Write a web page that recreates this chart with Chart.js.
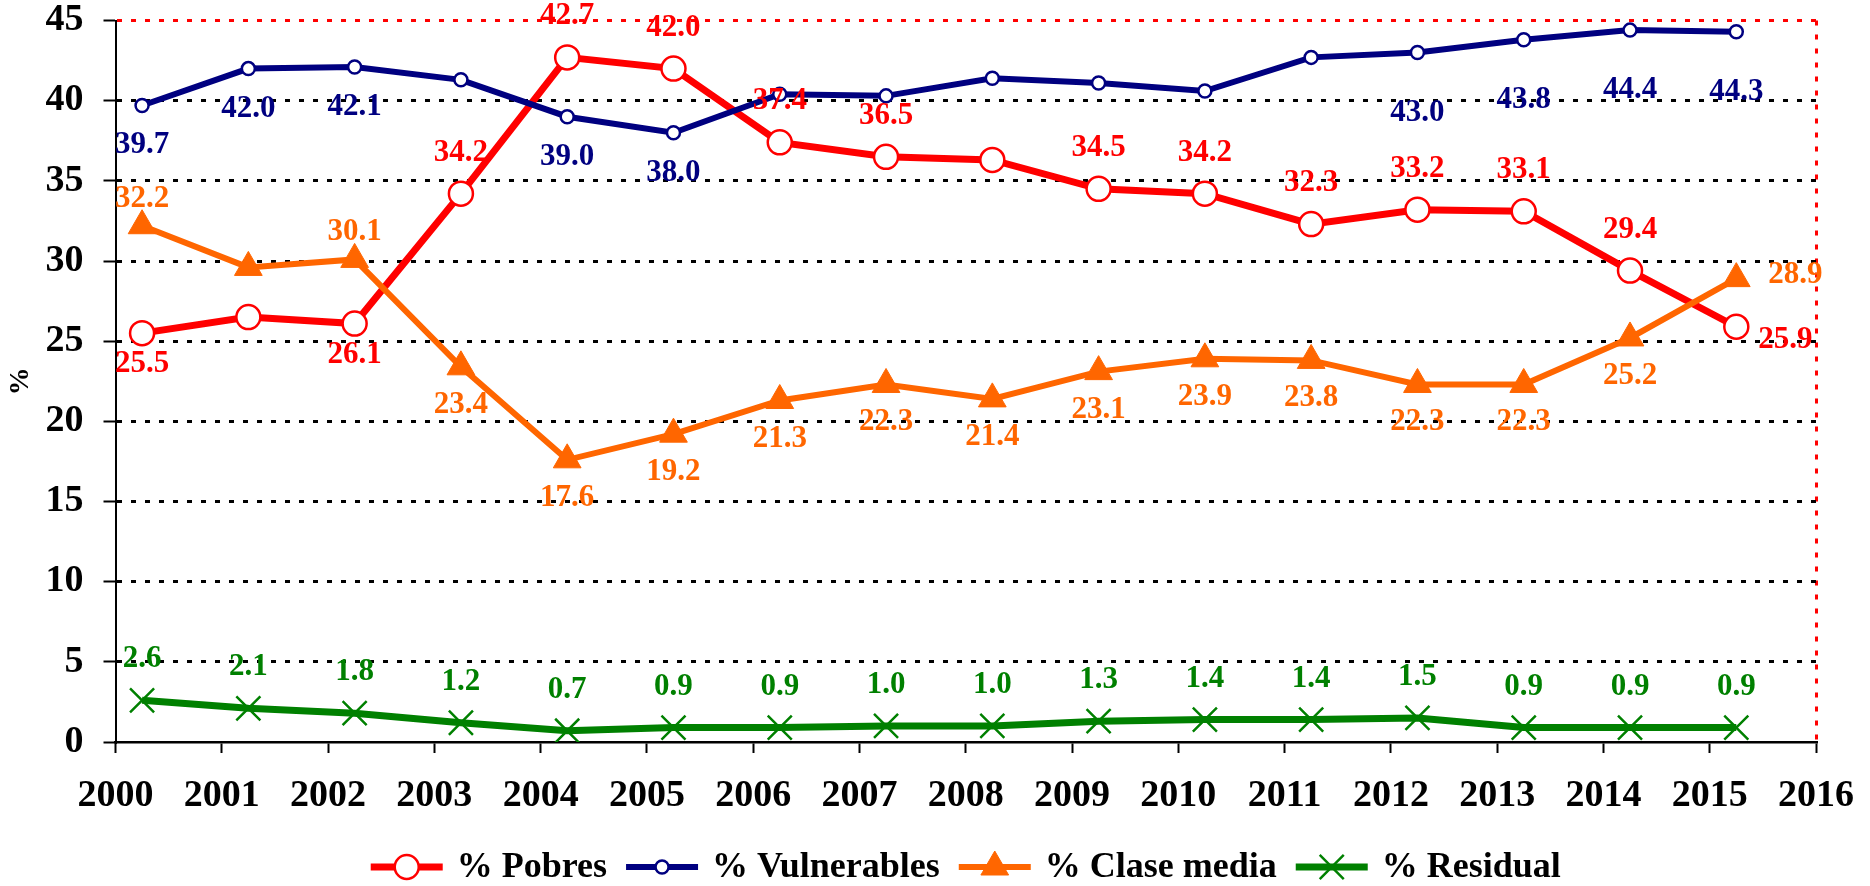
<!DOCTYPE html>
<html lang="es">
<head>
<meta charset="UTF-8">
<title>Pobres, vulnerables, clase media</title>
<script src="https://cdn.jsdelivr.net/npm/chart.js@4.4.0/dist/chart.umd.min.js"></script>
<style>
    * { margin: 0; padding: 0; box-sizing: border-box; }
    body { background: #fff; }
    .wrap { width: 1870px; height: 886px; position: relative; }
</style>
</head>
<body>
<div class="wrap"><canvas id="chart"></canvas></div>
<script>
// data
const years = [2000, 2001, 2002, 2003, 2004, 2005, 2006, 2007, 2008, 2009, 2010, 2011, 2012, 2013, 2014, 2015];
const pobres      = [25.5, 26.5, 26.1, 34.2, 42.7, 42.0, 37.4, 36.5, 36.3, 34.5, 34.2, 32.3, 33.2, 33.1, 29.4, 25.9];
const vulnerables = [39.7, 42.0, 42.1, 41.3, 39.0, 38.0, 40.4, 40.3, 41.4, 41.1, 40.6, 42.7, 43.0, 43.8, 44.4, 44.3];
const claseMedia  = [32.2, 29.6, 30.1, 23.4, 17.6, 19.2, 21.3, 22.3, 21.4, 23.1, 23.9, 23.8, 22.3, 22.3, 25.2, 28.9];
const residual    = [2.6, 2.1, 1.8, 1.2, 0.7, 0.9, 0.9, 1.0, 1.0, 1.3, 1.4, 1.4, 1.5, 0.9, 0.9, 0.9];

// x axis runs 2000..2016, points sit a quarter year after each tick
const xMin = 2000, xMax = 2016;
const pointOffset = 0.25;

// where each value label sits: a = above, b = below, B = further below, r = right, '' = none
const pobresLbl   = ['b', '', 'b', 'a', 'a', 'a', 'a', 'a', '', 'a', 'a', 'a', 'a', 'a', 'a', 'r'];
const vulnLbl     = ['b', 'b', 'b', '', 'b', 'b', '', '', '', '', '', '', 'B', 'B', 'B', 'B'];
const claseLbl    = ['a', '', 'a', 'b', 'b', 'b', 'b', 'b', 'b', 'b', 'b', 'b', 'b', 'b', 'b', 'r'];
const residualLbl = ['a', 'a', 'a', 'a', 'a', 'a', 'a', 'a', 'a', 'a', 'a', 'a', 'a', 'a', 'a', 'a'];

const FONT = "'Liberation Serif', 'Times New Roman', serif";
const RED = '#FF0000', NAVY = '#000080', ORANGE = '#FF6600', GREEN = '#008000';

function points(values) {
    return values.map((v, i) => ({ x: years[i] + pointOffset, y: v }));
}

// value labels, placed the way the original has them
const valueLabels = {
    id: 'valueLabels',
    afterDatasetsDraw(chart) {
        const ctx = chart.ctx;
        ctx.save();
        ctx.font = 'bold 31px ' + FONT;
        ctx.textAlign = 'center';
        ctx.textBaseline = 'middle';
        chart.data.datasets.forEach((ds, di) => {
            const meta = chart.getDatasetMeta(di);
            const g = ds.labelGap;
            ctx.fillStyle = ds.borderColor;
            meta.data.forEach((pt, i) => {
                const code = ds.labelPos[i];
                if (!code) return;
                let dx = 0, dy = 0;
                if (code === 'a') dy = -g.above;
                else if (code === 'b') dy = g.below;
                else if (code === 'B') dy = g.far;
                else if (code === 'r') { dx = g.right[0]; dy = g.right[1]; }
                ctx.fillText(ds.data[i].y.toFixed(1), pt.x + dx, pt.y + dy);
            });
        });
        ctx.restore();
    }
};

// legend drawn as line + marker sample, like the spreadsheet one
const lineLegend = {
    id: 'lineLegend',
    afterDraw(chart) {
        const ctx = chart.ctx;
        const area = chart.chartArea;
        const sampleW = 72, gapA = 14, gapB = 19;
        const y = 867;
        ctx.save();
        ctx.font = 'bold 36px ' + FONT;
        const items = chart.data.datasets.map(ds => ({ ds, w: ctx.measureText(ds.label).width }));
        let total = 0;
        items.forEach((it, i) => { total += sampleW + gapA + it.w + (i < items.length - 1 ? gapB : 0); });
        let x = (area.left + area.right) / 2 - total / 2;
        items.forEach(it => {
            const ds = it.ds;
            ctx.strokeStyle = ds.borderColor;
            ctx.lineWidth = ds.borderWidth;
            ctx.beginPath();
            ctx.moveTo(x, y);
            ctx.lineTo(x + sampleW, y);
            ctx.stroke();
            ctx.fillStyle = ds.pointBackgroundColor;
            ctx.strokeStyle = ds.pointBorderColor;
            ctx.lineWidth = ds.pointBorderWidth;
            Chart.helpers.drawPoint(ctx, {
                pointStyle: ds.pointStyle,
                radius: ds.pointRadius,
                rotation: 0,
                borderWidth: ds.pointBorderWidth
            }, x + sampleW / 2, y);
            ctx.fillStyle = '#000';
            ctx.textAlign = 'left';
            ctx.textBaseline = 'middle';
            ctx.fillText(ds.label, x + sampleW + gapA, y + 1);
            x += sampleW + gapA + it.w + gapB;
        });
        ctx.restore();
    }
};

new Chart(document.getElementById('chart'), {
    type: 'line',
    data: {
        datasets: [{
            label: '% Pobres',
            data: points(pobres),
            borderColor: RED,
            borderWidth: 7,
            pointStyle: 'circle',
            pointRadius: 12,
            pointBackgroundColor: '#fff',
            pointBorderColor: RED,
            pointBorderWidth: 2.5,
            labelPos: pobresLbl,
            labelGap: { above: 41, below: 31, right: [49, 13] },
            order: 4
        }, {
            label: '% Vulnerables',
            data: points(vulnerables),
            borderColor: NAVY,
            borderWidth: 6,
            pointStyle: 'circle',
            pointRadius: 6.5,
            pointBackgroundColor: '#fff',
            pointBorderColor: NAVY,
            pointBorderWidth: 2.5,
            labelPos: vulnLbl,
            labelGap: { below: 40, far: 60 },
            order: 3
        }, {
            label: '% Clase media',
            data: points(claseMedia),
            borderColor: ORANGE,
            borderWidth: 6,
            pointStyle: 'triangle',
            pointRadius: 16,
            pointBackgroundColor: ORANGE,
            pointBorderColor: ORANGE,
            pointBorderWidth: 1,
            labelPos: claseLbl,
            labelGap: { above: 27, below: 38, right: [59, -4] },
            order: 2
        }, {
            label: '% Residual',
            data: points(residual),
            borderColor: GREEN,
            borderWidth: 7,
            pointStyle: 'crossRot',
            pointRadius: 17,
            pointBackgroundColor: GREEN,
            pointBorderColor: GREEN,
            pointBorderWidth: 2.5,
            labelPos: residualLbl,
            labelGap: { above: 41 },
            order: 1
        }]
    },
    options: {
        responsive: true,
        maintainAspectRatio: false,
        animation: false,
        layout: { padding: { top: 20.5, right: 54, bottom: 60, left: 0 } },
        elements: { line: { tension: 0 } },
        plugins: {
            legend: { display: false },
            tooltip: { enabled: false }
        },
        scales: {
            x: {
                type: 'linear',
                min: xMin,
                max: xMax,
                afterFit: s => { s.height = 84; s.paddingLeft = 0; s.paddingRight = 0; },
                ticks: {
                    stepSize: 1,
                    autoSkip: false,
                    maxRotation: 0,
                    padding: 24,
                    color: '#000',
                    font: { family: FONT, size: 38, weight: 'bold', lineHeight: 1 },
                    callback: v => String(v)
                },
                grid: {
                    color: c => (c.tick && c.tick.value === xMax) ? RED : 'rgba(0,0,0,0)',
                    lineWidth: 3,
                    tickLength: 11,
                    tickColor: '#000',
                    tickWidth: 2,
                    tickBorderDash: []
                },
                border: { display: true, color: '#000', width: 2.5, dash: [5, 9] }
            },
            y: {
                min: 0,
                max: 45,
                afterFit: s => { s.width = 115.5; s.paddingTop = 0; s.paddingBottom = 0; },
                ticks: {
                    stepSize: 5,
                    padding: 20,
                    color: '#000',
                    font: { family: FONT, size: 38, weight: 'bold', lineHeight: 1 }
                },
                title: {
                    display: true,
                    text: '%',
                    color: '#000',
                    padding: { top: 4, bottom: 0 },
                    font: { family: FONT, size: 28, weight: 'bold', lineHeight: 1.2 }
                },
                grid: {
                    color: c => {
                        if (!c.tick) return '#000';
                        if (c.tick.value === 45) return RED;
                        if (c.tick.value === 0) return 'rgba(0,0,0,0)';
                        return '#000';
                    },
                    lineWidth: 3,
                    tickLength: 12,
                    tickColor: '#000',
                    tickWidth: 2,
                    tickBorderDash: []
                },
                border: { display: true, color: '#000', width: 2, dash: [5, 9] }
            }
        }
    },
    plugins: [valueLabels, lineLegend]
});
</script>
</body>
</html>
